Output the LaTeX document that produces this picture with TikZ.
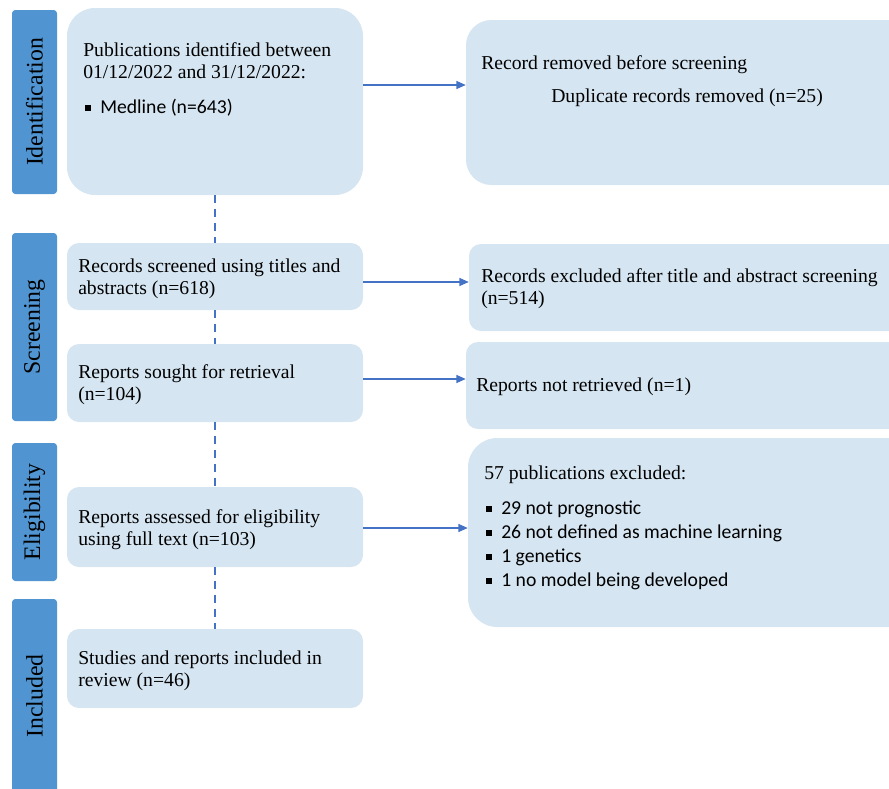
\documentclass[tikz,border=0pt]{standalone}
\usepackage{fontspec}
\setmainfont{Liberation Serif}
\newfontfamily\calib{Carlito}
\usetikzlibrary{arrows.meta}
\definecolor{boxfill}{RGB}{213,229,241}
\definecolor{barfill}{RGB}{80,149,210}
\definecolor{linecol}{RGB}{68,114,196}
\newcommand\sqb{\makebox[11.25pt][l]{\raisebox{1.7pt}{\rule{4.5pt}{4.5pt}}}}
\begin{document}
\begin{tikzpicture}[x=0.75pt,y=-0.75pt,
 box/.style={rectangle, fill=boxfill, draw=none, inner sep=0},
 bar/.style={rectangle, fill=barfill, rounded corners=2.5pt, minimum width=33.75pt, inner sep=0, font=\fontsize{17.8}{20}\selectfont},
 txt/.style={anchor=base west, align=left, inner sep=0, font=\fontsize{14.75}{16.5}\selectfont},
 blist/.style={anchor=base west, align=left, inner sep=0, font=\calib\fontsize{14.75}{18}\selectfont},
 arr/.style={draw=linecol, line width=0.9pt, -{Triangle[length=7pt,width=6pt]}},
 dline/.style={draw=linecol, line width=1.1pt, dash pattern=on 6pt off 4.5pt}]
\clip (0,0) rectangle (889,789);
% side bars
\node[bar, minimum height=138pt] (b1) at (34.5,102) {\rotatebox{90}{Identification}};
\node[bar, minimum height=141pt] (b2) at (34.5,327) {\rotatebox{90}{Screening}};
\node[bar, minimum height=103.5pt] (b3) at (34.5,512) {\rotatebox{90}{Eligibility}};
\node[bar, minimum height=150.75pt] (b4) at (34.5,699.5) {};
\node[font=\fontsize{17.8}{20}\selectfont, inner sep=0] (b4t) at (34.5,696) {\rotatebox{90}{Included}};
% left column
\node[box, rounded corners=21pt, minimum width=222pt, minimum height=140.25pt] (pub) at (215,101.5) {};
\node[txt] (pubt) at (83,78) {Publications identified between\\01/12/2022 and 31/12/2022:};
\node[blist] (publ) at (85,113) {\sqb Medline (n=643)};
\node[box, rounded corners=9pt, minimum width=222pt, minimum height=50.25pt] (scr) at (215,276.5) {};
\node[txt] (scrt) at (78,294) {Records screened using titles and\\abstracts (n=618)};
\node[box, rounded corners=9pt, minimum width=222pt, minimum height=58.5pt] (sought) at (215,383) {};
\node[txt] (soughtt) at (78,400) {Reports sought for retrieval\\(n=104)};
\node[box, rounded corners=9pt, minimum width=222pt, minimum height=60pt] (assessed) at (215,527) {};
\node[txt] (assessedt) at (78,545) {Reports assessed for eligibility\\using full text (n=103)};
\node[box, rounded corners=9pt, minimum width=222pt, minimum height=59.25pt] (studies) at (215,668.5) {};
\node[txt] (studiest) at (78,686) {Studies and reports included in\\review (n=46)};
% right column
\node[box, rounded corners=19pt, minimum width=348pt, minimum height=123.75pt] (removed) at (698,102.5) {};
\node[txt] (removedt) at (481,69) {Record removed before screening};
\node[txt] (removedd) at (551,102) {Duplicate records removed (n=25)};
\node[box, rounded corners=9pt, minimum width=345.75pt, minimum height=65.25pt] (excluded) at (699.5,287.5) {};
\node[txt] (excludedt) at (481,304) {Records excluded after title and abstract screening\\(n=514)};
\node[box, rounded corners=9pt, minimum width=348pt, minimum height=65.25pt] (notret) at (698,385.5) {};
\node[txt] (notrett) at (476,391) {Reports not retrieved (n=1)};
\node[box, rounded corners=22pt, minimum width=346.5pt, minimum height=141.75pt] (p57) at (699,532.5) {};
\node[txt] (p57t) at (484,479) {57 publications excluded:};
\node[blist] (p57l) at (486,586) {\sqb 29 not prognostic\\\sqb 26 not defined as machine learning\\\sqb 1 genetics\\\sqb 1 no model being developed};
% connectors
\coordinate (y1) at (0,85);
\coordinate (y2) at (0,282);
\coordinate (y3) at (0,379);
\coordinate (y4) at (0,528);
\draw[arr] (pub.east |- y1) -- (removed.west |- y1);
\draw[arr] (scr.east |- y2) -- (excluded.west |- y2);
\draw[arr] (sought.east |- y3) -- (notret.west |- y3);
\draw[arr] (assessed.east |- y4) -- (p57.west |- y4);
\draw[dline] (pub) -- (scr);
\draw[dline] (scr) -- (sought);
\draw[dline] (sought) -- (assessed);
\draw[dline] (assessed) -- (studies);
\end{tikzpicture}
\end{document}
